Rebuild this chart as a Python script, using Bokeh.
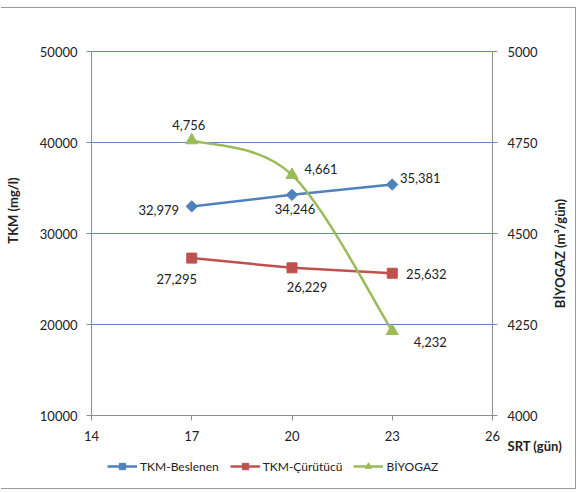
import math
from bokeh.plotting import figure
from bokeh.models import (Range1d, LinearAxis, FixedTicker, Legend, LegendItem,
                          Label, BasicTickFormatter, ColumnDataSource)
from bokeh.core.properties import value
from bokeh.embed import file_html
from bokeh.resources import INLINE

# ---- data ----
srt = [17, 20, 23]
tkm_beslenen = [32979, 34246, 35381]
tkm_curutucu = [27295, 26229, 25632]
biyogaz = [4756, 4661, 4232]
series_names = ["TKM-Beslenen", "TKM-Çürütücü", "BİYOGAZ"]
x_ticks = [14, 17, 20, 23, 26]
left_ticks = [10000, 20000, 30000, 40000, 50000]
right_ticks = [4000, 4250, 4500, 4750, 5000]

# ---- styles / layout (pixels) ----
BLUE = "#4F81BD"
RED = "#C0504D"
GREEN = "#9BBB59"
FONT = "Lato"
TXT = "#222222"
AXIS_COL = "#8c8c8c"
GRID_COL = "#5b86c2"
CW, CH = 575, 482            # canvas size
OX, OY = 1, 8                # canvas offset on the page (margin + border)
PL, PR, PT, PB = 90, 491, 43, 407   # plot area inside the canvas


def ext(lo, hi, a, b, total):
    """range extended so that [lo, hi] maps onto pixels [a, b] of a canvas of size total"""
    k = (hi - lo) / (b - a)
    return lo - a * k, hi + (total - b) * k


xs, xe = ext(x_ticks[0], x_ticks[-1], PL, PR, CW)
ys_, ye_ = ext(left_ticks[0], left_ticks[-1], CH - PB, CH - PT, CH)
bs, be = ext(right_ticks[0], right_ticks[-1], CH - PB, CH - PT, CH)

p = figure(width=CW, height=CH, x_range=Range1d(xs, xe), y_range=Range1d(ys_, ye_),
           output_backend="svg", toolbar_location=None, x_axis_type=None, y_axis_type=None,
           min_border=0, min_border_left=0, min_border_right=0, min_border_top=0,
           min_border_bottom=0)
p.styles = {"border-top": "1px solid #9a9a9a", "border-right": "1px solid #9a9a9a",
            "border-bottom": "1px solid #9a9a9a", "margin-top": "7px", "margin-left": "1px"}
p.outline_line_color = None
p.background_fill_color = "white"
p.border_fill_color = "white"
p.xgrid.visible = False
p.ygrid.visible = False
p.extra_y_ranges = {"bio": Range1d(bs, be)}

xaxis = LinearAxis(ticker=FixedTicker(ticks=x_ticks), fixed_location=left_ticks[0],
                   bounds=(x_ticks[0], x_ticks[-1]))
yaxis = LinearAxis(ticker=FixedTicker(ticks=left_ticks), fixed_location=x_ticks[0],
                   bounds=(left_ticks[0], left_ticks[-1]),
                   formatter=BasicTickFormatter(use_scientific=False))
raxis = LinearAxis(y_range_name="bio", ticker=FixedTicker(ticks=right_ticks),
                   fixed_location=x_ticks[-1], bounds=(right_ticks[0], right_ticks[-1]),
                   formatter=BasicTickFormatter(use_scientific=False))
p.add_layout(xaxis, "below")
p.add_layout(yaxis, "left")
p.add_layout(raxis, "right")

for ax in [xaxis, yaxis, raxis]:
    ax.axis_line_color = AXIS_COL
    ax.major_tick_line_color = AXIS_COL
    ax.minor_tick_line_color = None
    ax.major_tick_in = 0
    ax.major_tick_out = 5
    ax.major_label_text_font = FONT
    ax.major_label_text_font_size = "13px"
    ax.major_label_text_color = TXT
yaxis.major_label_standoff = 9
raxis.major_label_standoff = 10
xaxis.major_label_standoff = 10

# horizontal grid lines at the left-axis ticks
n_t = len(left_ticks)
p.segment(x0=[x_ticks[0]] * n_t, x1=[x_ticks[-1]] * n_t, y0=left_ticks, y1=left_ticks,
          line_color=GRID_COL, line_width=1, level="underlay")

# ---- series ----
lb = p.line(srt, tkm_beslenen, line_color=BLUE, line_width=2.5)
mb = p.scatter(srt, tkm_beslenen, marker="square", angle=math.pi / 4, size=8,
               fill_color=BLUE, line_color=BLUE)
lr = p.line(srt, tkm_curutucu, line_color=RED, line_width=2.5)
mr = p.scatter(srt, tkm_curutucu, marker="square", size=10, fill_color=RED, line_color=RED)

# smoothed (Excel-like Catmull-Rom) curve for biogas
n = len(srt)
seg = dict(x0=[], y0=[], x1=[], y1=[], cx0=[], cy0=[], cx1=[], cy1=[])
for i in range(n - 1):
    pm = i - 1 if i > 0 else i
    pn = i + 2 if i + 2 < n else i + 1
    seg["x0"].append(srt[i]); seg["y0"].append(biyogaz[i])
    seg["x1"].append(srt[i + 1]); seg["y1"].append(biyogaz[i + 1])
    seg["cx0"].append(srt[i] + (srt[i + 1] - srt[pm]) / 6)
    seg["cy0"].append(biyogaz[i] + (biyogaz[i + 1] - biyogaz[pm]) / 6)
    seg["cx1"].append(srt[i + 1] - (srt[pn] - srt[i]) / 6)
    seg["cy1"].append(biyogaz[i + 1] - (biyogaz[pn] - biyogaz[i]) / 6)
lg = p.bezier(x0="x0", y0="y0", x1="x1", y1="y1", cx0="cx0", cy0="cy0", cx1="cx1", cy1="cy1",
              source=ColumnDataSource(seg), line_color=GREEN, line_width=2.5,
              y_range_name="bio")
mg = p.scatter(srt, biyogaz, marker="triangle", size=12, fill_color=GREEN, line_color=GREEN,
               y_range_name="bio")

# ---- data labels ----
def fmt(v):
    return f"{v:,}"

lab_b_off = ([-33, 3, 28], [4, 14, -7])
lab_r_off = ([-15, 15, 34], [21, 19, 1])
lab_g_off = ([-3, 29, 38], [-15, -6, 11])
for ys, offs, rng in [(tkm_beslenen, lab_b_off, "default"), (tkm_curutucu, lab_r_off, "default"),
                      (biyogaz, lab_g_off, "bio")]:
    src = ColumnDataSource(dict(x=srt, y=ys, t=[fmt(v) for v in ys], dx=offs[0], dy=offs[1]))
    p.text(x="x", y="y", text="t", x_offset="dx", y_offset="dy", source=src,
           text_font=value(FONT), text_font_size="13px", text_color=TXT,
           text_align="center", text_baseline="middle", y_range_name=rng)

# ---- axis titles (page pixel positions -> frame screen units) ----
def title(text, px, py, angle=0.0, align="center"):
    p.add_layout(Label(x=px - OX, y=CH - (py - OY), x_units="screen", y_units="screen",
                       text=text, angle=angle, text_align=align, text_baseline="middle",
                       text_font=FONT, text_font_style="bold", text_font_size="13px",
                       text_color=TXT))

title("TKM (mg/l)", 12, 210, angle=math.pi / 2)
title("BİYOGAZ (m³/gün)", 559, 253, angle=math.pi / 2)
title("SRT (gün)", 507, 445, align="left")

# ---- legend ----
legend = Legend(items=[LegendItem(label=series_names[0], renderers=[lb, mb]),
                       LegendItem(label=series_names[1], renderers=[lr, mr]),
                       LegendItem(label=series_names[2], renderers=[lg, mg])],
                location=(106, 16), orientation="horizontal",
                label_text_font=FONT, label_text_font_size="12px", label_text_color=TXT,
                glyph_width=30, glyph_height=16, label_standoff=3, spacing=11,
                padding=0, margin=0, border_line_color=None, background_fill_alpha=0)
p.add_layout(legend)

open("out.html", "w").write(file_html(p, INLINE))
